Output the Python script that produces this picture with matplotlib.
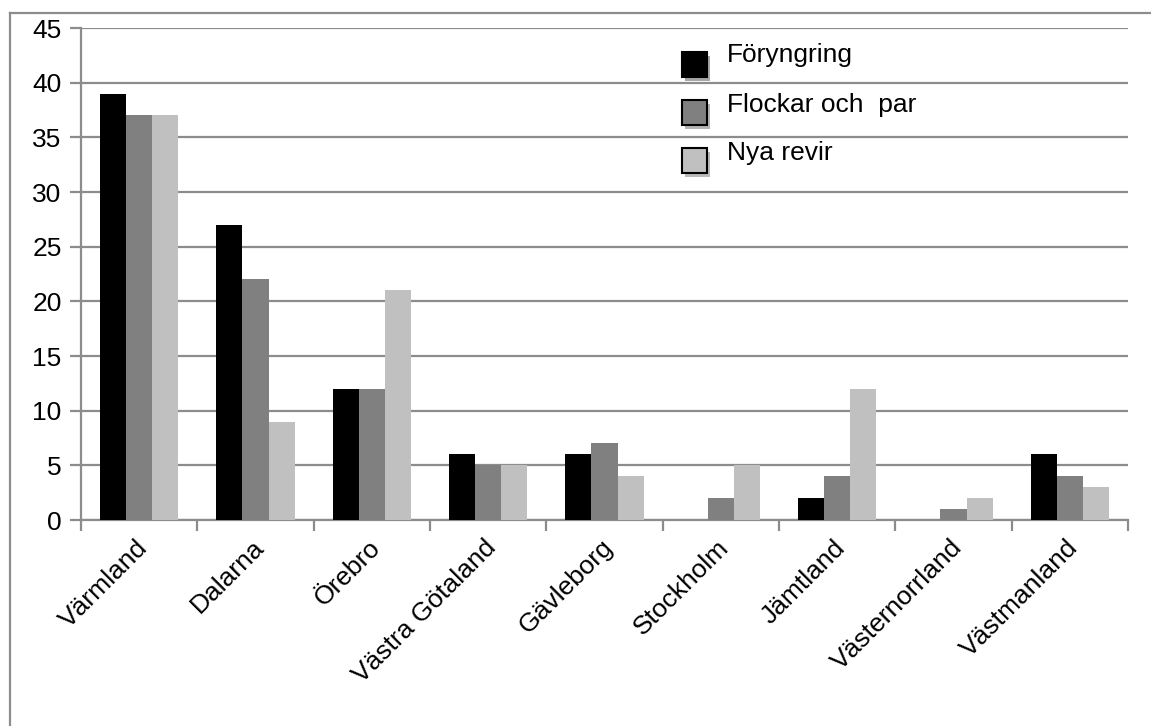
import matplotlib
matplotlib.use("Agg")
import matplotlib.pyplot as plt
from matplotlib.patches import Rectangle
from matplotlib.lines import Line2D
import matplotlib.patheffects as pe
import matplotlib.transforms as mtransforms
import numpy as np

plt.rcParams['font.family'] = ['Liberation Sans', 'DejaVu Sans']

categories = ["Värmland", "Dalarna", "Örebro", "Västra Götaland", "Gävleborg",
              "Stockholm", "Jämtland", "Västernorrland", "Västmanland"]
foryngring = [39, 27, 12, 6, 6, 0, 2, 0, 6]
flockar = [37, 22, 12, 5, 7, 2, 4, 1, 4]
nya_revir = [37, 9, 21, 5, 4, 5, 12, 2, 3]
series_names = ["Föryngring", "Flockar och  par", "Nya revir"]
colors = ["#000000", "#808080", "#c0c0c0"]
yticks = [0, 5, 10, 15, 20, 25, 30, 35, 40, 45]

W, H = 1151, 726
fig = plt.figure(figsize=(W / 100, H / 100), dpi=100)
ax = fig.add_axes([81 / W, (H - 520) / H, (1128 - 81) / W, (520 - 28) / H])

gray = "#8c8c8c"
fs = 19

x = np.arange(len(categories))
bw = 0.2236
for i, (vals, c) in enumerate(zip([foryngring, flockar, nya_revir], colors)):
    ax.bar(x + (i - 1) * bw, vals, width=bw, color=c, zorder=3,
           edgecolor=c, linewidth=0)

ax.set_xlim(-0.5, len(categories) - 0.5)
ax.set_ylim(0, 45)
ax.set_yticks(yticks)
ax.set_yticklabels([str(v) for v in yticks], fontsize=fs)
ax.yaxis.grid(True, color=gray, linewidth=1.6, zorder=0)
ax.set_axisbelow(True)

ax.set_xticks(x)
ax.set_xticklabels(categories, fontsize=fs, rotation=45, ha='right', va='top',
                   rotation_mode='anchor')
ax.set_xticks(np.arange(-0.5, len(categories)), minor=True)
ax.tick_params(axis='x', which='major', length=0, pad=11)
ax.tick_params(axis='x', which='minor', length=8, width=1.6, color=gray)
ax.tick_params(axis='y', length=8, width=1.6, color=gray, pad=6)
offset = mtransforms.ScaledTranslation(-4 / 100, 0, fig.dpi_scale_trans)
for lab in ax.get_xticklabels():
    lab.set_transform(lab.get_transform() + offset)

for s in ['top', 'right']:
    ax.spines[s].set_visible(False)
for s in ['left', 'bottom']:
    ax.spines[s].set_color(gray)
    ax.spines[s].set_linewidth(1.6)

# manual legend
leg_x = (682 - 81) / (1128 - 81)
sq_w = 25 / (1128 - 81)
sq_h = 25 / (520 - 28)
row_tops = [52, 100, 148]
text_centers = [55, 105, 153]
for name, c, top, tc in zip(series_names, colors, row_tops, text_centers):
    yb = 1 - (top + 25 - 28) / (520 - 28)
    r = Rectangle((leg_x, yb), sq_w, sq_h, transform=ax.transAxes,
                  facecolor=c, edgecolor='black', linewidth=1.5, clip_on=False,
                  zorder=5,
                  path_effects=[pe.SimplePatchShadow(offset=(2, -3), alpha=0.35),
                                pe.Normal()])
    ax.add_patch(r)
    ax.text((727 - 81) / (1128 - 81), 1 - (tc - 28) / (520 - 28), name,
            transform=ax.transAxes, fontsize=fs, ha='left', va='center', zorder=6)

# outer border (left and top)
fig.add_artist(Line2D([10 / W, 10 / W], [0, 1 - 13 / H], transform=fig.transFigure,
                      color=gray, linewidth=1.6))
fig.add_artist(Line2D([10 / W, 1], [1 - 13 / H, 1 - 13 / H], transform=fig.transFigure,
                      color=gray, linewidth=1.6))

fig.savefig("out.png", dpi=100, facecolor='white')
